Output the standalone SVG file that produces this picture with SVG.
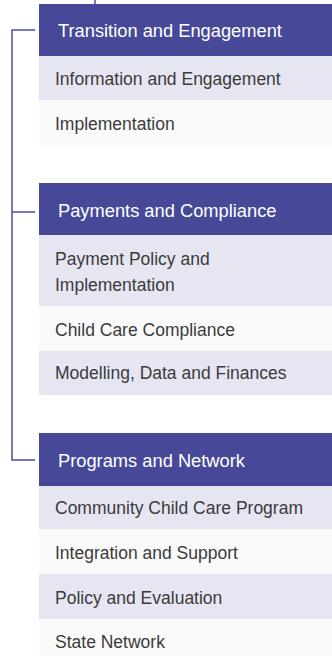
<svg xmlns="http://www.w3.org/2000/svg" width="332" height="656" viewBox="0 0 332 656">
  <style>
    .hdr { fill: #474998; }
    .alt { fill: #e6e6f2; }
    .pln { fill: #fafafa; }
    .ht { font-family: "Liberation Sans", Arial, sans-serif; font-size: 18.3px; fill: #ffffff; }
    .rt { font-family: "Liberation Sans", Arial, sans-serif; font-size: 17.5px; fill: #3b3b3b; }
    .ln { fill: none; stroke: #4b4d9f; stroke-width: 1.5; }
  </style>
  <rect width="332" height="656" fill="#ffffff"/>

  <!-- connectors -->
  <g id="connectors">
    <line class="ln" x1="95" y1="0" x2="95" y2="4"/>
    <path class="ln" d="M35 30 H12 V460 H35"/>
    <line class="ln" x1="12" y1="212" x2="35" y2="212"/>
  </g>

  <!-- Transition and Engagement -->
  <g id="transition">
    <rect class="hdr" x="39" y="4" width="293" height="52"/>
    <text class="ht" x="58" y="37">Transition and Engagement</text>
  </g>
  <g id="info-engagement">
    <rect class="alt" x="39" y="56" width="293" height="44"/>
    <text class="rt" x="55" y="85">Information and Engagement</text>
  </g>
  <g id="implementation">
    <rect class="pln" x="39" y="100" width="293" height="45"/>
    <text class="rt" x="55" y="130">Implementation</text>
  </g>

  <!-- Payments and Compliance -->
  <g id="payments">
    <rect class="hdr" x="39" y="183" width="293" height="52"/>
    <text class="ht" x="58" y="217">Payments and Compliance</text>
  </g>
  <g id="payment-policy">
    <rect class="alt" x="39" y="235" width="293" height="71"/>
    <text class="rt" x="55" y="265">Payment Policy and</text>
    <text class="rt" x="55" y="291">Implementation</text>
  </g>
  <g id="compliance">
    <rect class="pln" x="39" y="306" width="293" height="45"/>
    <text class="rt" x="55" y="336">Child Care Compliance</text>
  </g>
  <g id="modelling">
    <rect class="alt" x="39" y="351" width="293" height="44"/>
    <text class="rt" x="55" y="379">Modelling, Data and Finances</text>
  </g>

  <!-- Programs and Network -->
  <g id="programs">
    <rect class="hdr" x="39" y="433" width="293" height="53"/>
    <text class="ht" x="58" y="467">Programs and Network</text>
  </g>
  <g id="community">
    <rect class="alt" x="39" y="486" width="293" height="43"/>
    <text class="rt" x="55" y="514">Community Child Care Program</text>
  </g>
  <g id="integration">
    <rect class="pln" x="39" y="529" width="293" height="45"/>
    <text class="rt" x="55" y="559">Integration and Support</text>
  </g>
  <g id="policy-evaluation">
    <rect class="alt" x="39" y="574" width="293" height="45"/>
    <text class="rt" x="55" y="604">Policy and Evaluation</text>
  </g>
  <g id="state-network">
    <rect class="pln" x="39" y="619" width="293" height="37"/>
    <text class="rt" x="55" y="648">State Network</text>
  </g>
</svg>
